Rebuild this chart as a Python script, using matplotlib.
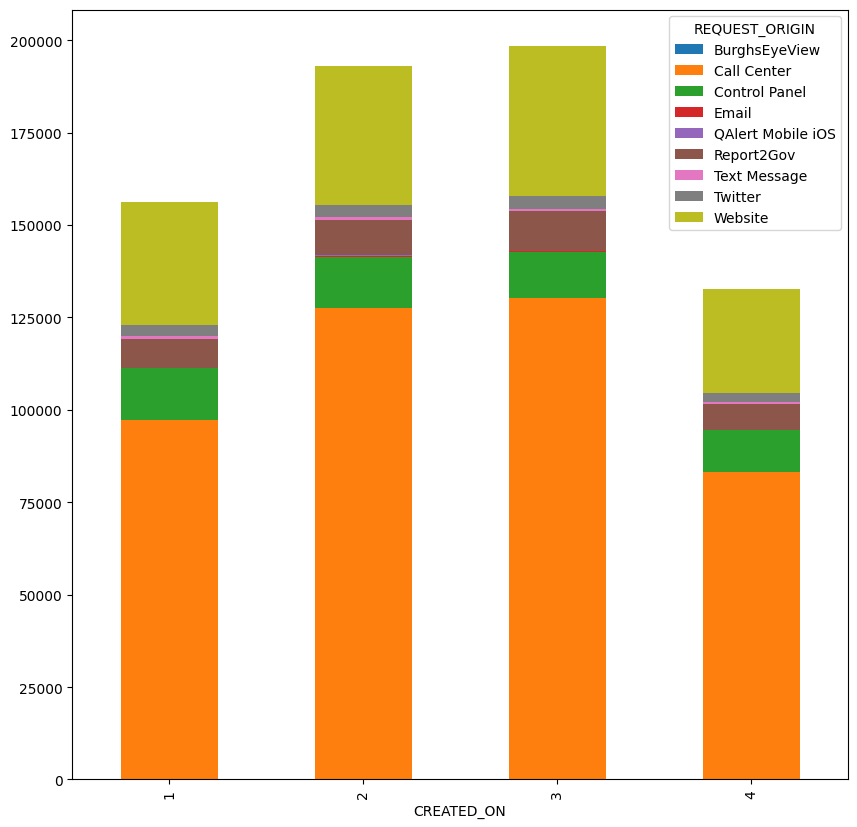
import pandas as pd
import matplotlib
matplotlib.use('Agg')
import matplotlib.pyplot as plt

# Quarter of creation
quarters = [1, 2, 3, 4]

# Request counts per origin
burghs_eye_view = [40, 50, 50, 30]
call_center = [97200, 127450, 130150, 83050]
control_panel = [13950, 13900, 12400, 11350]
email = [120, 300, 380, 120]
qalert_ios = [60, 60, 60, 60]
report2gov = [7700, 9700, 10700, 6900]
text_message = [800, 550, 550, 550]
twitter = [3000, 3250, 3500, 2400]
website = [33330, 37630, 40560, 28140]

df = pd.DataFrame({
    'BurghsEyeView': burghs_eye_view,
    'Call Center': call_center,
    'Control Panel': control_panel,
    'Email': email,
    'QAlert Mobile iOS': qalert_ios,
    'Report2Gov': report2gov,
    'Text Message': text_message,
    'Twitter': twitter,
    'Website': website,
}, index=pd.Index(quarters, name='CREATED_ON'))
df.columns.name = 'REQUEST_ORIGIN'

fig, ax = plt.subplots(figsize=(8.57, 8.28))
df.plot.bar(stacked=True, ax=ax)
plt.subplots_adjust(left=0.0842, right=0.9895, top=0.9873, bottom=0.0574)

plt.savefig('out.png', dpi=100)
